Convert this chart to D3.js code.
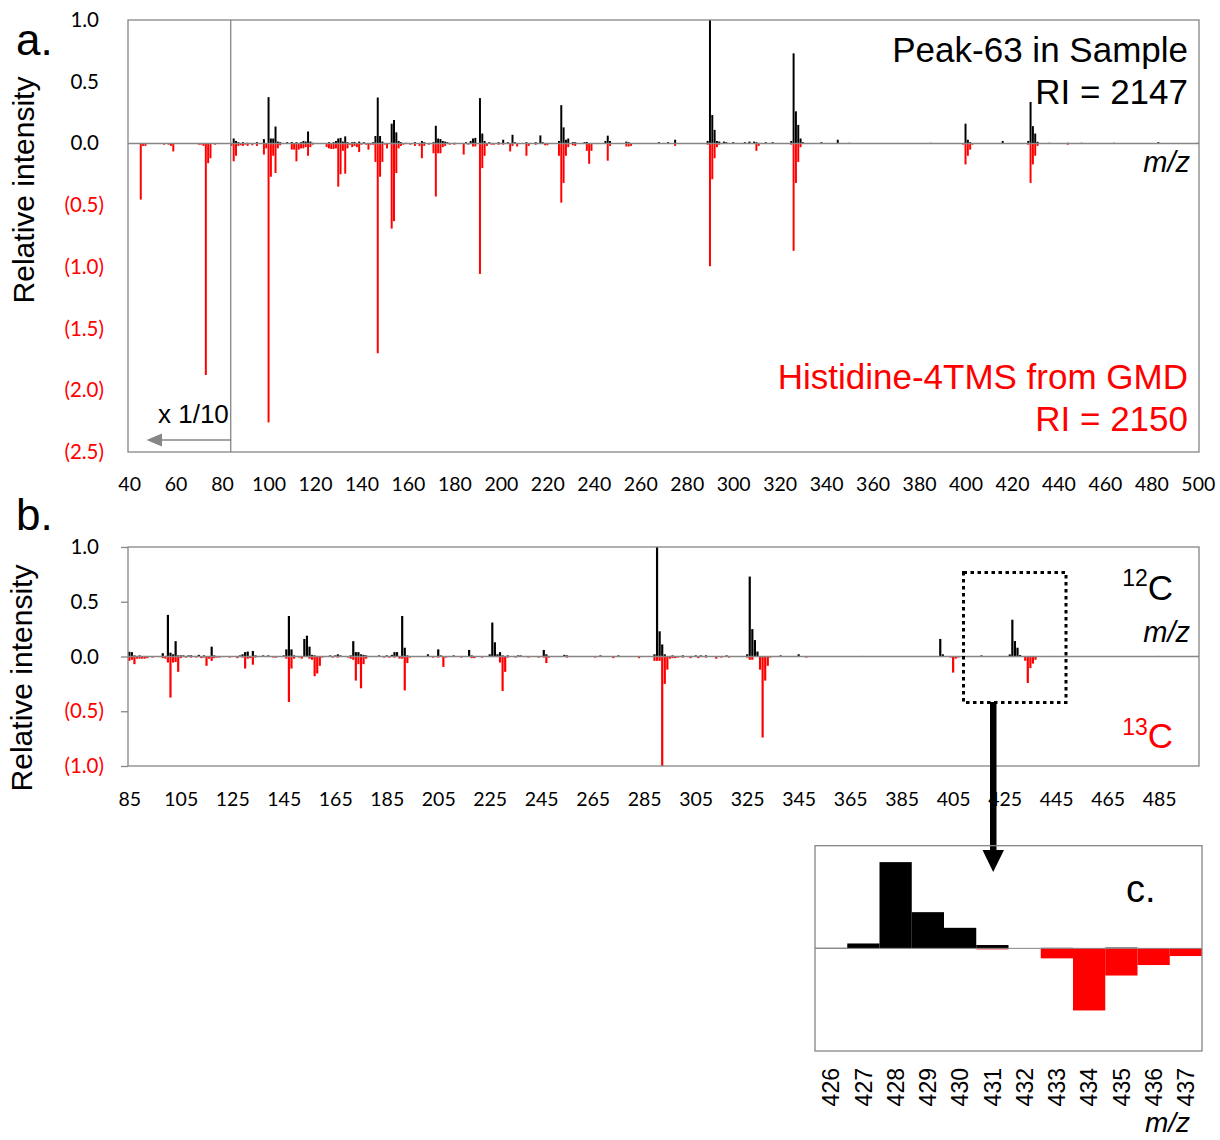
<!DOCTYPE html>
<html>
<head>
<meta charset="utf-8">
<script src="https://cdn.jsdelivr.net/npm/d3@7"></script>
<style>
  body { margin: 0; background: #fff; }
  svg text { font-family: "Liberation Sans", Arial, sans-serif; }
  .tl { font-family: Lato, "Liberation Sans", sans-serif; font-size: 19.5px; }
  .yl { font-family: Lato, "Liberation Sans", sans-serif; font-size: 20.5px; }
</style>
</head>
<body>
<div id="chart"></div>
<script>
// panel a: Peak-63 in sample (up, black) vs Histidine-4TMS from GMD (down, red)
// m/z below 84 are shown x 1/10
const sampleA = [[85,0.04],[86,0.02],[87,0.01],[89,0.01],[91,0.005],[95,0.01],[98,0.035],[100,0.375],[101,0.04],[102,0.04],[103,0.137],[104,0.015],[105,0.01],[108,0.01],[110,0.012],[112,0.01],[114,0.01],[115,0.02],[116,0.015],[117,0.097],[118,0.015],[119,0.005],[126,0.01],[128,0.01],[129,0.02],[130,0.04],[131,0.045],[132,0.015],[133,0.057],[134,0.01],[136,0.01],[137,0.012],[139,0.015],[141,0.01],[145,0.01],[146,0.06],[147,0.372],[148,0.06],[149,0.015],[153,0.16],[154,0.19],[155,0.09],[156,0.02],[157,0.01],[159,0.005],[163,0.01],[166,0.02],[167,0.01],[171,0.01],[172,0.143],[173,0.04],[174,0.035],[175,0.02],[176,0.015],[177,0.01],[180,0.005],[185,0.01],[187,0.02],[188,0.04],[189,0.045],[191,0.367],[192,0.08],[193,0.02],[195,0.01],[199,0.01],[201,0.03],[203,0.01],[205,0.07],[206,0.01],[211,0.01],[215,0.01],[217,0.065],[218,0.01],[225,0.02],[226,0.31],[227,0.13],[228,0.03],[229,0.04],[231,0.01],[232,0.01],[236,0.01],[237,0.012],[245,0.02],[246,0.063],[247,0.02],[254,0.015],[255,0.01],[268,0.01],[272,0.01],[275,0.03],[289,0.02],[290,1.0],[291,0.23],[292,0.11],[293,0.02],[294,0.015],[296,0.015],[297,0.01],[300,0.01],[305,0.01],[307,0.015],[309,0.015],[310,0.01],[314,0.01],[317,0.01],[325,0.02],[326,0.73],[327,0.26],[328,0.15],[329,0.04],[330,0.01],[338,0.01],[345,0.03],[350,0.005],[385,0.005],[400,0.16],[401,0.03],[402,0.01],[416,0.02],[427,0.02],[428,0.336],[429,0.14],[430,0.08],[431,0.013],[436,0.005],[444,0.005],[450,0.005],[464,0.005],[483,0.01],[500,0.005]];

const gmdA = [[45,0.455],[46,0.02],[47,0.02],[55,0.01],[57,0.01],[58,0.02],[59,0.065],[70,0.01],[71,0.01],[72,0.02],[73,1.876],[74,0.16],[75,0.12],[77,0.01],[79,0.005],
  [84,0.02],[85,0.145],[86,0.1],[87,0.02],[88,0.015],[89,0.02],[90,0.01],[91,0.02],[93,0.015],[95,0.02],[98,0.09],[99,0.04],[100,2.26],[101,0.27],[102,0.1],[103,0.24],[104,0.04],[105,0.015],[110,0.05],[111,0.05],[112,0.145],[113,0.05],[114,0.04],[115,0.04],[116,0.03],[117,0.1],[118,0.03],[119,0.01],[125,0.03],[126,0.04],[127,0.045],[128,0.045],[129,0.04],[130,0.35],[131,0.25],[132,0.06],[133,0.245],[134,0.04],[135,0.01],[136,0.03],[137,0.02],[138,0.03],[139,0.07],[140,0.01],[142,0.01],[143,0.05],[144,0.01],[145,0.01],[146,0.15],[147,1.70],[148,0.27],[149,0.15],[150,0.01],[151,0.04],[153,0.69],[154,0.63],[155,0.24],[156,0.04],[157,0.02],[158,0.01],[161,0.01],[163,0.02],[165,0.02],[166,0.12],[167,0.02],[169,0.01],[171,0.08],[172,0.43],[173,0.08],[174,0.08],[175,0.03],[176,0.02],[178,0.01],[180,0.01],[184,0.09],[186,0.01],[188,0.025],[189,0.025],[191,1.057],[192,0.2],[193,0.1],[194,0.02],[196,0.01],[197,0.01],[199,0.01],[201,0.01],[204,0.065],[205,0.02],[207,0.025],[211,0.1],[212,0.02],[215,0.01],[219,0.015],[220,0.015],[225,0.1],[226,0.48],[227,0.32],[228,0.1],[229,0.03],[231,0.015],[232,0.02],[237,0.06],[238,0.165],[239,0.06],[246,0.14],[247,0.02],[254,0.025],[255,0.025],[256,0.02],[275,0.02],[289,0.01],[290,0.995],[291,0.29],[292,0.12],[293,0.03],[294,0.01],[310,0.06],[311,0.02],[325,0.01],[326,0.87],[327,0.32],[328,0.15],[329,0.03],[399,0.01],[400,0.17],[401,0.1],[402,0.05],[403,0.01],[427,0.01],[428,0.32],[429,0.17],[430,0.1],[431,0.02],[444,0.01]];

// panel b: 12C (up, black) vs 13C (down, red)
const c12 = [[85,0.043],[86,0.04],[87,0.01],[89,0.01],[91,0.005],[98,0.03],[100,0.38],[101,0.035],[102,0.02],[103,0.14],[104,0.01],[105,0.01],[106,0.01],[108,0.01],[109,0.01],[112,0.015],[114,0.01],[117,0.09],[118,0.01],[128,0.01],[129,0.02],[130,0.04],[131,0.045],[133,0.05],[134,0.01],[137,0.01],[139,0.01],[145,0.01],[146,0.065],[147,0.37],[148,0.065],[149,0.01],[153,0.16],[154,0.19],[155,0.09],[156,0.015],[157,0.01],[163,0.01],[165,0.01],[166,0.02],[167,0.01],[171,0.01],[172,0.14],[173,0.04],[174,0.04],[175,0.02],[176,0.015],[177,0.01],[182,0.01],[185,0.01],[187,0.015],[188,0.04],[189,0.04],[191,0.37],[192,0.08],[193,0.01],[201,0.02],[205,0.065],[206,0.01],[211,0.01],[217,0.06],[218,0.01],[225,0.02],[226,0.31],[227,0.13],[228,0.02],[229,0.04],[230,0.01],[232,0.01],[236,0.01],[237,0.01],[246,0.06],[247,0.02],[254,0.015],[255,0.01],[268,0.01],[275,0.01],[289,0.02],[290,1.0],[291,0.23],[292,0.11],[293,0.02],[296,0.01],[300,0.01],[305,0.01],[307,0.01],[309,0.01],[317,0.01],[325,0.02],[326,0.73],[327,0.25],[328,0.15],[329,0.045],[338,0.01],[345,0.02],[370,0.005],[400,0.16],[401,0.02],[416,0.01],[426,0.002],[427,0.019],[428,0.336],[429,0.141],[430,0.08],[431,0.013],[433,0.002],[435,0.003],[444,0.005],[485,0.005],[500,0.005]];

const c13 = [[85,0.04],[86,0.03],[87,0.07],[88,0.02],[89,0.02],[90,0.02],[91,0.02],[92,0.015],[94,0.01],[98,0.015],[99,0.02],[100,0.055],[101,0.375],[102,0.055],[103,0.05],[104,0.14],[105,0.015],[107,0.01],[109,0.01],[111,0.01],[113,0.015],[114,0.01],[115,0.085],[116,0.02],[117,0.04],[118,0.015],[119,0.01],[120,0.01],[124,0.01],[127,0.015],[129,0.01],[130,0.11],[131,0.02],[132,0.015],[133,0.075],[134,0.01],[141,0.01],[142,0.01],[146,0.02],[147,0.415],[148,0.11],[149,0.02],[151,0.01],[152,0.02],[155,0.02],[156,0.03],[157,0.18],[158,0.155],[159,0.085],[160,0.01],[164,0.01],[166,0.01],[170,0.01],[171,0.02],[172,0.03],[173,0.22],[174,0.07],[175,0.29],[176,0.07],[177,0.02],[184,0.01],[186,0.01],[188,0.01],[190,0.02],[191,0.02],[192,0.31],[193,0.06],[194,0.01],[203,0.01],[205,0.01],[207,0.095],[208,0.01],[214,0.01],[218,0.015],[219,0.015],[222,0.01],[229,0.055],[230,0.315],[231,0.14],[232,0.01],[235,0.01],[240,0.01],[244,0.01],[246,0.01],[247,0.06],[248,0.01],[255,0.01],[266,0.01],[273,0.015],[283,0.015],[289,0.04],[290,0.04],[291,0.04],[292,1.0],[293,0.25],[294,0.12],[295,0.02],[296,0.015],[297,0.015],[298,0.01],[300,0.01],[303,0.015],[306,0.015],[309,0.01],[313,0.02],[315,0.01],[318,0.01],[325,0.01],[326,0.03],[327,0.03],[330,0.12],[331,0.74],[332,0.22],[333,0.085],[334,0.01],[348,0.01],[372,0.005],[381,0.005],[388,0.005],[398,0.005],[404,0.01],[405,0.147],[406,0.02],[407,0.01],[431,0.004],[433,0.039],[434,0.242],[435,0.106],[436,0.065],[437,0.03],[440,0.005],[447,0.005],[455,0.005],[470,0.005],[485,0.005]];

const ticksYA = [1, 0.5, 0, -0.5, -1, -1.5, -2, -2.5];
const ticksXA = d3.range(40, 501, 20);
const ticksYB = [1, 0.5, 0, -0.5, -1];
const ticksXB = d3.range(85, 486, 20);
const zoomMz = d3.range(426, 438);

const w = 1220, h = 1140;
const grey = '#868686';
const red = '#ff0000';

const svg = d3.select('#chart')
              .append('svg')
              .attr('width', w)
              .attr('height', h);

const fmt = d3.format('.1f');
const yFmt = v => v < 0 ? '(' + fmt(-v) + ')' : fmt(v);

function drawBars(g, data, x, y, bw, color, down) {
  g.selectAll(null)
   .data(data)
   .enter()
   .append('rect')
   .attr('x', d => x(d[0]) - bw / 2)
   .attr('y', d => down ? y(0) : y(d[1]))
   .attr('width', bw)
   .attr('height', d => down ? y(-d[1]) - y(0) : y(0) - y(d[1]))
   .attr('fill', color);
}

function yLabels(g, ticks, x0, y, tickLen) {
  const ax = d3.axisLeft(y)
               .tickValues(ticks)
               .tickSize(tickLen)
               .tickPadding(24 - tickLen)
               .tickFormat(yFmt);
  const ga = g.append('g')
              .attr('transform', 'translate(' + x0 + ',0)')
              .call(ax);
  ga.select('.domain').remove();
  ga.selectAll('line').attr('stroke', grey).attr('stroke-width', 1.3);
  ga.selectAll('text')
    .attr('class', 'yl')
    .attr('fill', d => d < 0 ? red : '#000')
    .attr('x', d => d < 0 ? -24 : -29);
}

function xLabels(g, ticks, x, y0, pad) {
  const ax = d3.axisBottom(x)
               .tickValues(ticks)
               .tickSize(0)
               .tickPadding(pad);
  const ga = g.append('g')
              .attr('transform', 'translate(0,' + y0 + ')')
              .call(ax);
  ga.select('.domain').remove();
  ga.selectAll('text').attr('class', 'tl').attr('fill', '#000');
}

// ---------- panel a ----------
const xA = d3.scaleLinear().domain([39.5, 500.5]).range([128, 1199]);
const yA = d3.scaleLinear().domain([-2.5, 1]).range([452, 20]);
const bwA = (xA(1) - xA(0)) * 0.85;
const gA = svg.append('g');

drawBars(gA, sampleA, xA, yA, bwA, '#000', false);
drawBars(gA, gmdA, xA, yA, bwA, red, true);

gA.append('line')
  .attr('x1', xA.range()[0]).attr('x2', xA.range()[1])
  .attr('y1', yA(0)).attr('y2', yA(0))
  .attr('stroke', grey).attr('stroke-width', 1.5);
gA.append('rect')
  .attr('x', 128).attr('y', 20).attr('width', 1071).attr('height', 432)
  .attr('fill', 'none').attr('stroke', grey).attr('stroke-width', 1.3);
gA.append('line')
  .attr('x1', xA(83.5) + 0.5).attr('x2', xA(83.5) + 0.5)
  .attr('y1', 20).attr('y2', 452)
  .attr('stroke', grey).attr('stroke-width', 1.3);

// x 1/10 arrow
gA.append('line')
  .attr('x1', xA(83.5) + 1).attr('x2', 158)
  .attr('y1', 440).attr('y2', 440)
  .attr('stroke', grey).attr('stroke-width', 1.5);
gA.append('path')
  .attr('d', 'M146.5,440 L162,433.5 L162,446.5 Z')
  .attr('fill', grey);
gA.append('text')
  .attr('x', 158).attr('y', 423)
  .style('font-size', '26px')
  .text('x 1/10');

yLabels(gA, ticksYA, 128, yA, 0);
xLabels(gA, ticksXA, xA, 452, 25);

gA.append('text')
  .attr('x', 16).attr('y', 55)
  .style('font-size', '44px')
  .text('a.');
gA.append('text')
  .attr('transform', 'translate(34,190) rotate(-90)')
  .attr('text-anchor', 'middle')
  .style('font-size', '30px')
  .text('Relative intensity');

gA.append('text')
  .attr('x', 1188).attr('y', 62)
  .attr('text-anchor', 'end')
  .style('font-size', '35px')
  .text('Peak-63 in Sample');
gA.append('text')
  .attr('x', 1188).attr('y', 104)
  .attr('text-anchor', 'end')
  .style('font-size', '35px')
  .text('RI = 2147');
gA.append('text')
  .attr('x', 1190).attr('y', 172)
  .attr('text-anchor', 'end')
  .style('font-size', '29px')
  .style('font-style', 'italic')
  .text('m/z');
gA.append('text')
  .attr('x', 1188).attr('y', 389)
  .attr('text-anchor', 'end')
  .attr('fill', red)
  .style('font-size', '35px')
  .text('Histidine-4TMS from GMD');
gA.append('text')
  .attr('x', 1188).attr('y', 431)
  .attr('text-anchor', 'end')
  .attr('fill', red)
  .style('font-size', '35px')
  .text('RI = 2150');

// ---------- panel b ----------
const xB = d3.scaleLinear().domain([84.5, 500.5]).range([128, 1199]);
const yB = d3.scaleLinear().domain([-1, 1]).range([766, 547]);
const bwB = (xB(1) - xB(0)) * 0.85;
const gB = svg.append('g');

drawBars(gB, c12, xB, yB, bwB, '#000', false);
drawBars(gB, c13, xB, yB, bwB, red, true);

gB.append('line')
  .attr('x1', 128).attr('x2', 1199)
  .attr('y1', yB(0)).attr('y2', yB(0))
  .attr('stroke', grey).attr('stroke-width', 1.5);
gB.append('rect')
  .attr('x', 128).attr('y', 547).attr('width', 1071).attr('height', 219)
  .attr('fill', 'none').attr('stroke', grey).attr('stroke-width', 1.3);

yLabels(gB, ticksYB, 128, yB, 7);
xLabels(gB, ticksXB, xB, 766, 26);

gB.append('text')
  .attr('x', 16).attr('y', 530)
  .style('font-size', '44px')
  .text('b.');
gB.append('text')
  .attr('transform', 'translate(32,678) rotate(-90)')
  .attr('text-anchor', 'middle')
  .style('font-size', '30px')
  .text('Relative intensity');

const t12 = gB.append('text')
  .attr('x', 1173).attr('y', 600)
  .attr('text-anchor', 'end')
  .style('font-size', '35px');
t12.append('tspan').attr('dy', -14).style('font-size', '23px').text('12');
t12.append('tspan').attr('dy', 14).text('C');
gB.append('text')
  .attr('x', 1190).attr('y', 642)
  .attr('text-anchor', 'end')
  .style('font-size', '29px')
  .style('font-style', 'italic')
  .text('m/z');
const t13 = gB.append('text')
  .attr('x', 1173).attr('y', 748)
  .attr('text-anchor', 'end')
  .attr('fill', red)
  .style('font-size', '35px');
t13.append('tspan').attr('dy', -13).style('font-size', '23px').text('13');
t13.append('tspan').attr('dy', 13).text('C');

// dotted zoom box + arrow down to c
gB.append('rect')
  .attr('x', 963.5).attr('y', 572.5).attr('width', 102.5).attr('height', 130)
  .attr('fill', 'none').attr('stroke', '#000')
  .attr('stroke-width', 3).attr('stroke-dasharray', '3.5,3.5');
gB.append('rect')
  .attr('x', 990).attr('y', 702).attr('width', 6.5).attr('height', 150)
  .attr('fill', '#000');
gB.append('path')
  .attr('d', 'M982.5,850 L1004,850 L993.2,872 Z')
  .attr('fill', '#000');

// ---------- panel c ----------
const xC = d3.scaleBand().domain(zoomMz).range([815, 1202]).padding(0);
const yC = d3.scaleLinear().domain([-0.4, 0.4]).range([1051, 845.7]);
const inZoom = d => d[0] >= 426 && d[0] <= 437;
const gC = svg.append('g');

gC.selectAll(null)
  .data(c12.filter(inZoom))
  .enter()
  .append('rect')
  .attr('x', d => xC(d[0]))
  .attr('y', d => yC(d[1]))
  .attr('width', xC.bandwidth())
  .attr('height', d => yC(0) - yC(d[1]))
  .attr('fill', '#000');
gC.selectAll(null)
  .data(c13.filter(inZoom))
  .enter()
  .append('rect')
  .attr('x', d => xC(d[0]))
  .attr('y', yC(0))
  .attr('width', xC.bandwidth())
  .attr('height', d => yC(-d[1]) - yC(0))
  .attr('fill', red);

gC.append('line')
  .attr('x1', 815).attr('x2', 1202)
  .attr('y1', yC(0)).attr('y2', yC(0))
  .attr('stroke', grey).attr('stroke-width', 1);
gC.append('rect')
  .attr('x', 815).attr('y', 845.7).attr('width', 387).attr('height', 205.3)
  .attr('fill', 'none').attr('stroke', grey).attr('stroke-width', 1.3);

gC.selectAll(null)
  .data(zoomMz)
  .enter()
  .append('text')
  .attr('transform', d => 'translate(' + (xC(d) + xC.bandwidth() / 2) + ',1068) rotate(-90)')
  .attr('text-anchor', 'end')
  .attr('dy', '0.36em')
  .style('font-size', '23px')
  .text(d => d);

gC.append('text')
  .attr('x', 1126).attr('y', 902)
  .style('font-size', '38px')
  .text('c.');
gC.append('text')
  .attr('x', 1190).attr('y', 1132)
  .attr('text-anchor', 'end')
  .style('font-size', '28px')
  .style('font-style', 'italic')
  .text('m/z');
</script>
</body>
</html>
